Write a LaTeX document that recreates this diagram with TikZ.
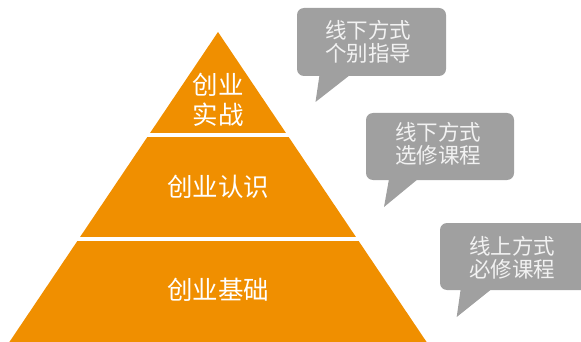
\documentclass[tikz,border=0pt]{standalone}
\usepackage{fontspec}
\newfontfamily\cjk{Noto Sans CJK SC}
\definecolor{pyr}{RGB}{240,143,0}
\definecolor{bub}{RGB}{160,160,160}
\definecolor{btxt}{RGB}{242,242,242}
\begin{document}
\begin{tikzpicture}[x=1pt,y=-1pt,
  level/.style={text=white,font=\cjk\fontsize{25.5}{30}\selectfont,align=center,inner sep=0pt},
  bubtext/.style={text=btxt,font=\cjk\fontsize{21.5}{23.5}\selectfont,align=center,inner sep=0pt},
  bubble/.style={fill=bub,rounded corners=7pt,inner sep=0pt},
  tail/.style={fill=bub}]
\useasboundingbox (0,0) rectangle (581,342);
\clip (0,0) rectangle (581,342);
% pyramid
\coordinate (apex) at (218,32);
\coordinate (bl) at (9.4,342);
\coordinate (br) at (426.6,342);
\fill[pyr] (apex) -- (bl) -- (br) -- cycle;
\fill[white] (0,133) rectangle (581,137.5);
\fill[white] (0,236.5) rectangle (581,241);
\node[level] (top) at (218,100) {创业\\实战};
\node[level] (mid) at (218,187) {创业认识};
\node[level] (base) at (218,290) {创业基础};
% bubble 1
\fill[bubble] (297,8) rectangle (446,76);
\fill[tail] (319.5,75) -- (315.5,102) -- (350,75) -- cycle;
\node[bubtext] (t1) at (368,42) {线下方式\\个别指导};
% bubble 2
\fill[bubble] (366,113) rectangle (514,180);
\fill[tail] (389,179) -- (384,207) -- (418,179) -- cycle;
\node[bubtext] (t2) at (438,144) {线下方式\\选修课程};
% bubble 3
\fill[bubble] (440,223) rectangle (590,290);
\fill[tail] (460.7,289) -- (456.7,317) -- (491.7,289) -- cycle;
\node[bubtext] (t3) at (512,258) {线上方式\\必修课程};
\end{tikzpicture}
\end{document}
